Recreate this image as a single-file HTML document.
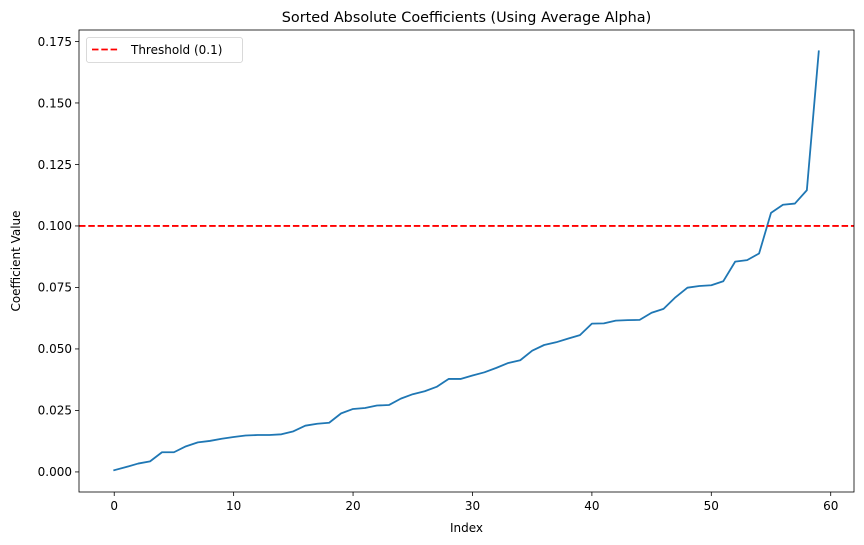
<!DOCTYPE html>
<html><head><meta charset="utf-8"><style>
html,body{margin:0;padding:0;background:#fff;}
svg{display:block;font-family:"DejaVu Sans","Liberation Sans",sans-serif;}
</style></head><body>
<svg id="chart" width="864" height="545" viewBox="0 0 864 545"></svg>
<script>
const indices = Array.from({length:60},(_, i)=>i);
const coefValues = [0.0007,0.002,0.0034,0.0043,0.008,0.008,0.0104,0.012,0.0126,0.0135,
0.0142,0.0148,0.015,0.015,0.0153,0.0165,0.0188,0.0196,0.020,0.0238,
0.0256,0.026,0.027,0.0272,0.0298,0.0316,0.0328,0.0346,0.0378,0.0378,
0.0392,0.0405,0.0423,0.0443,0.0454,0.0493,0.0516,0.0527,0.0542,0.0556,
0.0603,0.0604,0.0615,0.0617,0.0618,0.0647,0.0663,0.071,0.0749,0.0756,
0.0759,0.0775,0.0855,0.0861,0.0888,0.1053,0.1086,0.1091,0.1145,0.171];
const threshold = 0.1;
const xTicks = [0,10,20,30,40,50,60];
const yTicks = [0,0.025,0.05,0.075,0.1,0.125,0.15,0.175];
const yTickLabels = ["0.000","0.025","0.050","0.075","0.100","0.125","0.150","0.175"];

const L=79,R=854,T=30,B=492;
const xMin=-2.95,xMax=61.95;
const yMin=-0.00816,yMax=0.17966;
const sx=v=>L+(v-xMin)/(xMax-xMin)*(R-L);
const sy=v=>B-(v-yMin)/(yMax-yMin)*(B-T);
const svg=document.getElementById('chart');
const NS='http://www.w3.org/2000/svg';
function mk(tag,attrs,parent){const e=document.createElementNS(NS,tag);for(const k in attrs)e.setAttribute(k,attrs[k]);(parent||svg).appendChild(e);return e;}

// title
let t=mk('text',{x:(L+R)/2,y:22,'text-anchor':'middle','font-size':'14.4',fill:'#000'});
t.textContent='Sorted Absolute Coefficients (Using Average Alpha)';



// x ticks
xTicks.forEach(v=>{
  const g=mk('g',{});
  
  
  mk('line',{x1:sx(v),x2:sx(v),y1:B,y2:B+4,stroke:'#000','stroke-width':0.8},g);
  const tx=mk('text',{x:sx(v),y:B+18,'text-anchor':'middle','font-size':'12',fill:'#000'},g);
  tx.textContent=v;
});
// y ticks
yTicks.forEach((v,i)=>{
  const g=mk('g',{});
  
  
  mk('line',{x1:L-4,x2:L,y1:sy(v),y2:sy(v),stroke:'#000','stroke-width':0.8},g);
  const tx=mk('text',{x:L-7,y:sy(v)+4.3,'text-anchor':'end','font-size':'12',fill:'#000'},g);
  tx.textContent=yTickLabels[i];
});
// axis titles
t=mk('text',{x:(L+R)/2,y:532,'text-anchor':'middle','font-size':'12',fill:'#000'});
t.textContent='Index';


t=mk('text',{x:0,y:0,'text-anchor':'middle','font-size':'12',fill:'#000',transform:`translate(20,${(T+B)/2}) rotate(-90)`});
t.textContent='Coefficient Value';



// series line
const pts=indices.map((x,i)=>sx(x).toFixed(2)+','+sy(coefValues[i]).toFixed(2)).join(' ');
const line=mk('polyline',{points:pts,fill:'none',stroke:'#1f77b4','stroke-width':1.8,'stroke-linejoin':'round','stroke-linecap':'square'});



// threshold
const th=mk('line',{x1:L,x2:R,y1:sy(threshold),y2:sy(threshold),stroke:'#ff0000','stroke-width':1.8,'stroke-dasharray':'6.5,2.8'});



// frame
const fr=mk('rect',{x:L,y:T,width:R-L,height:B-T,fill:'none',stroke:'#000','stroke-width':0.8});



// legend
const lg=mk('g',{});


mk('rect',{x:86.5,y:37.5,width:156,height:25,rx:2.5,fill:'#fff','fill-opacity':0.8,stroke:'#d0d0d0','stroke-width':0.8},lg);
mk('line',{x1:92,x2:119,y1:49.5,y2:49.5,stroke:'#ff0000','stroke-width':1.8,'stroke-dasharray':'6.5,2.8'},lg);
const lt=mk('text',{x:131,y:54,'font-size':'12',fill:'#000'},lg);
lt.textContent='Threshold (0.1)';


</script>
</body></html>
